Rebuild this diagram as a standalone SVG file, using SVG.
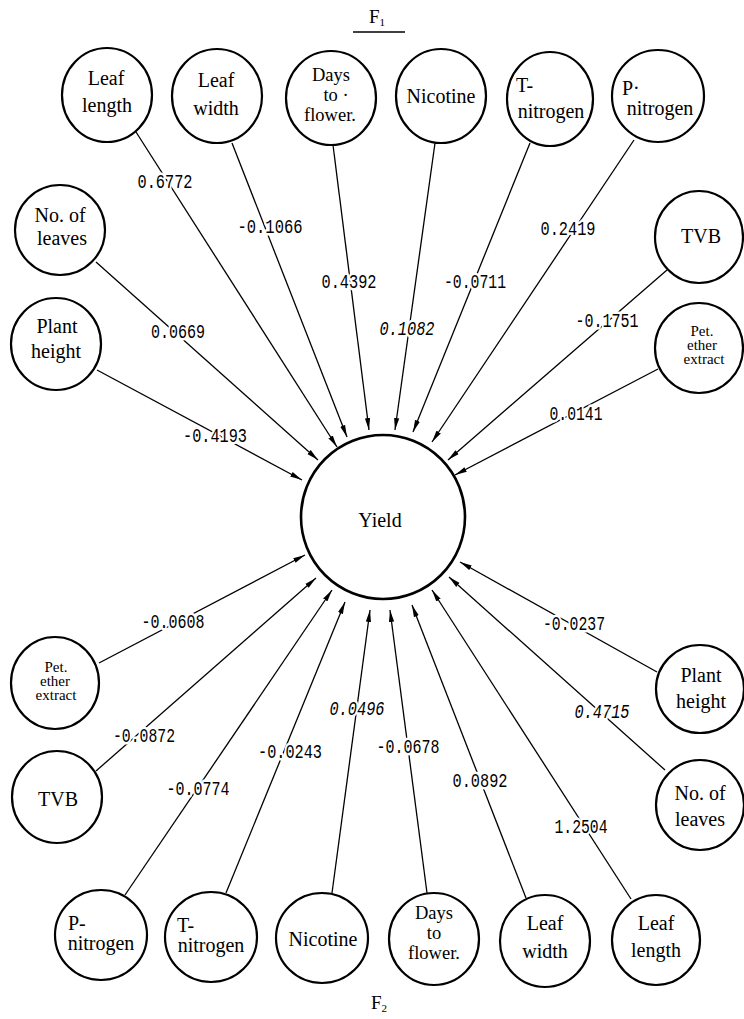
<svg xmlns="http://www.w3.org/2000/svg" width="744" height="1019" viewBox="0 0 744 1019">
<defs>
<style>
.node{fill:#fff;stroke:#000;stroke-width:2.2}
.t{font-family:"Liberation Serif","Times New Roman",serif;font-size:20px;fill:#000;text-anchor:middle}
.td{font-family:"Liberation Serif","Times New Roman",serif;font-size:18.5px;fill:#000;text-anchor:middle}
.ts{font-family:"Liberation Serif","Times New Roman",serif;font-size:15px;fill:#000;text-anchor:middle}
.tl{font-family:"Liberation Serif","Times New Roman",serif;font-size:20px;fill:#000;text-anchor:start}
.edge{stroke:#000;stroke-width:1.3;fill:none;marker-end:url(#ah)}
.lab{font-family:"Liberation Mono","Courier New",monospace;font-size:20px;fill:#000;text-anchor:middle;stroke:#fff;stroke-width:5;paint-order:stroke;stroke-linejoin:round}
.it{font-style:italic}
.f{font-family:"Liberation Serif","Times New Roman",serif;font-size:19px;fill:#000}
</style>
<marker id="ah" viewBox="0 0 12 6" refX="12" refY="3" markerWidth="12" markerHeight="6" markerUnits="userSpaceOnUse" orient="auto">
<path d="M0,0.4 L12,3 L0,5.6 z" fill="#000"/>
</marker>
</defs>
<rect width="744" height="1019" fill="#fff"/>

<g id="title-f1">
<text class="f" x="369" y="23">F<tspan font-size="11" dy="3">1</tspan></text>
<line x1="353" y1="32" x2="405" y2="32" stroke="#000" stroke-width="1.5"/>
</g>
<g id="title-f2">
<text class="f" x="371" y="1009">F<tspan font-size="11" dy="3">2</tspan></text>
</g>

<g id="connectors">
<line class="edge" x1="136" y1="132" x2="337" y2="447"/>
<line class="edge" x1="232" y1="143" x2="347" y2="437"/>
<line class="edge" x1="333" y1="145" x2="369" y2="430"/>
<line class="edge" x1="435" y1="143" x2="395" y2="430"/>
<line class="edge" x1="530" y1="143" x2="413" y2="432"/>
<line class="edge" x1="634" y1="140" x2="432" y2="442"/>
<line class="edge" x1="667" y1="270" x2="448" y2="460"/>
<line class="edge" x1="658" y1="369" x2="455" y2="475"/>
<line class="edge" x1="96" y1="262" x2="318" y2="460"/>
<line class="edge" x1="97" y1="370" x2="302" y2="480"/>
<line class="edge" x1="99" y1="663" x2="305" y2="555"/>
<line class="edge" x1="96" y1="771" x2="316" y2="578"/>
<line class="edge" x1="125" y1="895" x2="332" y2="590"/>
<line class="edge" x1="226" y1="893" x2="345" y2="602"/>
<line class="edge" x1="332" y1="893" x2="370" y2="610"/>
<line class="edge" x1="427" y1="893" x2="390" y2="610"/>
<line class="edge" x1="526" y1="898" x2="412" y2="605"/>
<line class="edge" x1="631" y1="899" x2="432" y2="590"/>
<line class="edge" x1="665" y1="770" x2="449" y2="577"/>
<line class="edge" x1="657" y1="672" x2="460" y2="562"/>

<text class="lab" x="165" y="188" textLength="55" lengthAdjust="spacingAndGlyphs">0.6772</text>
<text class="lab" x="270" y="233" textLength="65" lengthAdjust="spacingAndGlyphs">-0.1066</text>
<text class="lab" x="349" y="288" textLength="55" lengthAdjust="spacingAndGlyphs">0.4392</text>
<text class="lab it" x="407" y="335" textLength="55" lengthAdjust="spacingAndGlyphs">0.1082</text>
<text class="lab" x="475" y="288" textLength="62" lengthAdjust="spacingAndGlyphs">-0.0711</text>
<text class="lab" x="568" y="235" textLength="55" lengthAdjust="spacingAndGlyphs">0.2419</text>
<text class="lab" x="607" y="327" textLength="63" lengthAdjust="spacingAndGlyphs">-0.1751</text>
<text class="lab" x="576" y="420" textLength="53" lengthAdjust="spacingAndGlyphs">0.0141</text>
<text class="lab" x="178" y="338" textLength="54" lengthAdjust="spacingAndGlyphs">0.0669</text>
<text class="lab" x="215" y="442" textLength="64" lengthAdjust="spacingAndGlyphs">-0.4193</text>
<text class="lab" x="173" y="628" textLength="63" lengthAdjust="spacingAndGlyphs">-0.0608</text>
<text class="lab" x="144" y="742" textLength="62" lengthAdjust="spacingAndGlyphs">-0.0872</text>
<text class="lab" x="198" y="795" textLength="63" lengthAdjust="spacingAndGlyphs">-0.0774</text>
<text class="lab" x="290" y="758" textLength="64" lengthAdjust="spacingAndGlyphs">-0.0243</text>
<text class="lab it" x="357" y="715" textLength="55" lengthAdjust="spacingAndGlyphs">0.0496</text>
<text class="lab" x="408" y="753" textLength="63" lengthAdjust="spacingAndGlyphs">-0.0678</text>
<text class="lab" x="480" y="787" textLength="55" lengthAdjust="spacingAndGlyphs">0.0892</text>
<text class="lab" x="581" y="833" textLength="53" lengthAdjust="spacingAndGlyphs">1.2504</text>
<text class="lab it" x="602" y="718" textLength="55" lengthAdjust="spacingAndGlyphs">0.4715</text>
<text class="lab" x="574" y="630" textLength="62" lengthAdjust="spacingAndGlyphs">-0.0237</text>
</g>

<g id="yield">
<circle cx="383" cy="517" r="82" fill="#fff" stroke="#000" stroke-width="2.6"/>
<text class="t" x="380" y="527">Yield</text>
</g>

<g id="f1-leaf-length">
<ellipse class="node" cx="107" cy="95" rx="45" ry="47"/>
<text class="t" x="106" y="85">Leaf</text>
<text class="t" x="107" y="112">length</text>
</g>
<g id="f1-leaf-width">
<ellipse class="node" cx="217" cy="96" rx="45" ry="47"/>
<text class="t" x="216" y="87">Leaf</text>
<text class="t" x="216" y="115">width</text>
</g>
<g id="f1-days-to-flower">
<ellipse class="node" cx="331" cy="98" rx="45" ry="47"/>
<text class="td" x="331" y="81">Days</text>
<text class="td" x="336" y="101">to ·</text>
<text class="td" x="330" y="121">flower.</text>
</g>
<g id="f1-nicotine">
<ellipse class="node" cx="441" cy="96" rx="45" ry="47"/>
<text class="t" x="441" y="103">Nicotine</text>
</g>
<g id="f1-t-nitrogen">
<ellipse class="node" cx="550" cy="99" rx="43" ry="47"/>
<text class="tl" x="516" y="92">T-</text>
<text class="t" x="551" y="118">nitrogen</text>
</g>
<g id="f1-p-nitrogen">
<ellipse class="node" cx="658" cy="96" rx="46" ry="46"/>
<text class="tl" x="622" y="95">P·</text>
<text class="t" x="660" y="115">nitrogen</text>
</g>
<g id="f1-tvb">
<ellipse class="node" cx="699" cy="237" rx="44" ry="46"/>
<text class="t" x="701" y="243">TVB</text>
</g>
<g id="f1-pet-ether-extract">
<ellipse class="node" cx="699" cy="348" rx="44" ry="45"/>
<text class="ts" x="702" y="336">Pet.</text>
<text class="ts" x="702" y="350">ether</text>
<text class="ts" x="704" y="364">extract</text>
</g>
<g id="f1-no-of-leaves">
<ellipse class="node" cx="60" cy="230" rx="45" ry="45"/>
<text class="t" x="60" y="222">No.  of</text>
<text class="t" x="62" y="245">leaves</text>
</g>
<g id="f1-plant-height">
<ellipse class="node" cx="56" cy="344" rx="45" ry="46"/>
<text class="t" x="57" y="333">Plant</text>
<text class="t" x="56" y="358">height</text>
</g>

<g id="f2-pet-ether-extract">
<ellipse class="node" cx="55" cy="683" rx="44" ry="46"/>
<text class="ts" x="56" y="672">Pet.</text>
<text class="ts" x="55" y="686">ether</text>
<text class="ts" x="56" y="700">extract</text>
</g>
<g id="f2-tvb">
<ellipse class="node" cx="57" cy="797" rx="45" ry="46"/>
<text class="t" x="58" y="806">TVB</text>
</g>
<g id="f2-p-nitrogen">
<ellipse class="node" cx="101" cy="935" rx="46" ry="45"/>
<text class="tl" x="68" y="930">P-</text>
<text class="t" x="101" y="950">nitrogen</text>
</g>
<g id="f2-t-nitrogen">
<ellipse class="node" cx="211" cy="937" rx="46" ry="45"/>
<text class="tl" x="177" y="932">T-</text>
<text class="t" x="211" y="952">nitrogen</text>
</g>
<g id="f2-nicotine">
<ellipse class="node" cx="322" cy="938" rx="46" ry="45"/>
<text class="t" x="323" y="946">Nicotine</text>
</g>
<g id="f2-days-to-flower">
<ellipse class="node" cx="434" cy="939" rx="45" ry="46"/>
<text class="td" x="434" y="919">Days</text>
<text class="td" x="434" y="939">to</text>
<text class="td" x="434" y="959">flower.</text>
</g>
<g id="f2-leaf-width">
<ellipse class="node" cx="545" cy="941" rx="45" ry="46"/>
<text class="t" x="545" y="930">Leaf</text>
<text class="t" x="545" y="958">width</text>
</g>
<g id="f2-leaf-length">
<ellipse class="node" cx="656" cy="940" rx="44" ry="45"/>
<text class="t" x="656" y="930">Leaf</text>
<text class="t" x="656" y="957">length</text>
</g>
<g id="f2-plant-height">
<ellipse class="node" cx="700" cy="689" rx="44" ry="44"/>
<text class="t" x="701" y="682">Plant</text>
<text class="t" x="701" y="708">height</text>
</g>
<g id="f2-no-of-leaves">
<ellipse class="node" cx="700" cy="805" rx="44" ry="45"/>
<text class="t" x="700" y="800">No.  of</text>
<text class="t" x="700" y="826">leaves</text>
</g>
</svg>
